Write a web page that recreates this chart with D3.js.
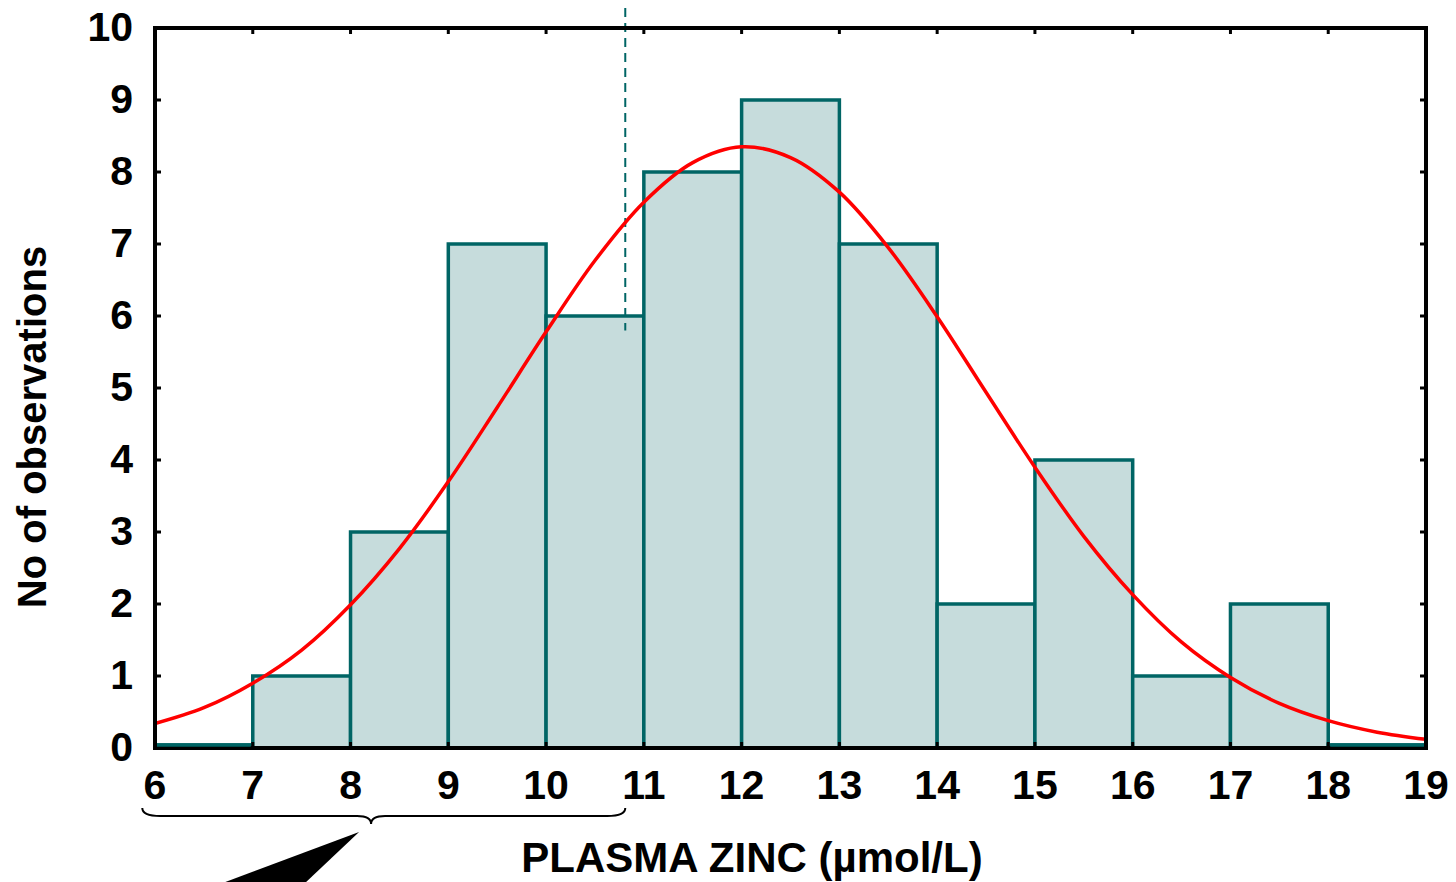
<!DOCTYPE html>
<meta charset="utf-8">
<head>
  <style>
    html, body { margin: 0; padding: 0; background: #fff; }
    svg { font-family: 'Liberation Sans', Arial, sans-serif; font-weight: bold; }
  </style>
  <script src="https://d3js.org/d3.v7.min.js"></script>
</head>
<body>
  <div id="my_dataviz"></div>
  <script>
    // bins of plasma zinc (lower edges) and counts
    const binStarts = [6, 7, 8, 9, 10, 11, 12, 13, 14, 15, 16, 17, 18];
    const counts = [0, 1, 3, 7, 6, 8, 9, 7, 2, 4, 1, 2, 0];

    // fitted normal curve
    const curveX = [6, 6.5, 7, 7.5, 8, 8.5, 9, 9.5, 10, 10.5, 11, 11.5, 12, 12.5, 13, 13.5, 14, 14.5, 15, 15.5, 16, 16.5, 17, 17.5, 18, 18.5, 19];
    const curveY = [0.34, 0.56, 0.90, 1.36, 1.99, 2.77, 3.70, 4.73, 5.78, 6.77, 7.58, 8.13, 8.35, 8.20, 7.72, 6.95, 5.99, 4.94, 3.90, 2.94, 2.13, 1.47, 0.98, 0.62, 0.38, 0.22, 0.12];

    const xTicks = [6, 7, 8, 9, 10, 11, 12, 13, 14, 15, 16, 17, 18, 19];
    const yTicks = [0, 1, 2, 3, 4, 5, 6, 7, 8, 9, 10];
    const cutoff = 10.81;        // dashed line
    const braceRange = [5.87, 8.21, 10.81];

    const W = 1456, H = 882;
    const margin = { top: 28, right: 30, bottom: 134, left: 155 };
    const width = 1426 - margin.left, height = 748 - margin.top;

    const svg = d3.select("#my_dataviz").append("svg")
      .attr("width", W).attr("height", H);
    const g = svg.append("g").attr("transform", `translate(${margin.left},${margin.top})`);

    const x = d3.scaleLinear().domain([6, 19]).range([0, width]);
    const y = d3.scaleLinear().domain([0, 10]).range([height, 0]);

    // bars (empty bins still show as a flat teal line on the baseline)
    g.selectAll("rect.bar")
      .data(binStarts.map((b, i) => ({ b, c: counts[i] })))
      .join("rect")
      .attr("class", "bar")
      .attr("x", d => x(d.b))
      .attr("y", d => Math.min(y(d.c), y(0) - 3))
      .attr("width", d => x(d.b + 1) - x(d.b))
      .attr("height", d => Math.max(y(0) - y(d.c), 3))
      .style("fill", "#c6dcdc")
      .style("stroke", "#006565")
      .style("stroke-width", 3.5);

    // dashed cutoff
    g.append("line")
      .attr("x1", x(cutoff)).attr("x2", x(cutoff))
      .attr("y1", -20).attr("y2", y(5.8))
      .style("stroke", "#006565")
      .style("stroke-width", 2)
      .style("stroke-dasharray", "9,6");

    // normal curve
    const line = d3.line()
      .x(d => x(d[0])).y(d => y(d[1]))
      .curve(d3.curveCatmullRom);
    g.append("path")
      .datum(curveX.map((v, i) => [v, curveY[i]]))
      .attr("d", line)
      .style("fill", "none")
      .style("stroke", "#ff0000")
      .style("stroke-width", 3.5);

    // frame with inward ticks
    g.append("path")
      .attr("d", `M0,0 V${height} H${width} V0 Z`)
      .style("fill", "none").style("stroke", "#000").style("stroke-width", 4);
    // keep the empty-bin lines visible above the bottom frame
    g.selectAll("line.zero")
      .data(binStarts.filter((b, i) => counts[i] === 0))
      .join("line")
      .attr("x1", d => x(d) + 2).attr("x2", d => x(d + 1) - 2)
      .attr("y1", height - 3).attr("y2", height - 3)
      .style("stroke", "#006565").style("stroke-width", 3.5);

    const tk = 6;
    g.selectAll("line.xt").data(xTicks.slice(1, -1)).join("line")
      .attr("x1", d => x(d)).attr("x2", d => x(d))
      .attr("y1", height).attr("y2", height - tk)
      .style("stroke", "#000").style("stroke-width", 3);
    g.selectAll("line.xt2").data(xTicks.slice(1, -1)).join("line")
      .attr("x1", d => x(d)).attr("x2", d => x(d))
      .attr("y1", 0).attr("y2", tk)
      .style("stroke", "#000").style("stroke-width", 3);
    g.selectAll("line.yt").data(yTicks.slice(1, -1)).join("line")
      .attr("x1", 0).attr("x2", tk)
      .attr("y1", d => y(d)).attr("y2", d => y(d))
      .style("stroke", "#000").style("stroke-width", 3);
    g.selectAll("line.yt2").data(yTicks.slice(1, -1)).join("line")
      .attr("x1", width).attr("x2", width - tk)
      .attr("y1", d => y(d)).attr("y2", d => y(d))
      .style("stroke", "#000").style("stroke-width", 3);

    // tick labels
    g.selectAll("text.xl").data(xTicks).join("text")
      .attr("x", d => x(d)).attr("y", height + 51)
      .attr("text-anchor", "middle")
      .style("font-size", "41px")
      .text(d => d);
    g.selectAll("text.yl").data(yTicks).join("text")
      .attr("x", -22).attr("y", d => y(d) + 13)
      .attr("text-anchor", "end")
      .style("font-size", "41px")
      .text(d => d);

    // axis titles
    svg.append("text")
      .attr("x", 752).attr("y", 872)
      .attr("text-anchor", "middle")
      .style("font-size", "42px")
      .text("PLASMA ZINC (µmol/L)");
    svg.append("text")
      .attr("transform", "translate(46,427) rotate(-90)")
      .attr("text-anchor", "middle")
      .style("font-size", "40px")
      .text("No of observations");

    // brace under the axis
    const bx0 = margin.left + x(braceRange[0]),
      bxm = margin.left + x(braceRange[1]),
      bx1 = margin.left + x(braceRange[2]);
    const by0 = 808, by1 = 816, by2 = 824;
    svg.append("path")
      .attr("d", `M${bx0},${by0} Q${bx0},${by1} ${bx0 + 18},${by1} L${bxm - 14},${by1} Q${bxm},${by1} ${bxm},${by2} Q${bxm},${by1} ${bxm + 14},${by1} L${bx1 - 18},${by1} Q${bx1},${by1} ${bx1},${by0}`)
      .style("fill", "none").style("stroke", "#000").style("stroke-width", 2);

    // wedge pointer
    svg.append("path")
      .attr("d", `M${bxm - 12},832 L220,884 L304,884 Z`)
      .style("fill", "#000");
  </script>
</body>
